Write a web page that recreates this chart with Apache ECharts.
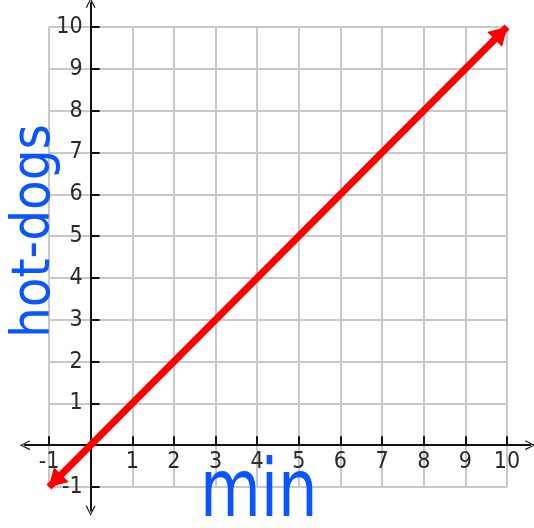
<!DOCTYPE html>
<html>
<head>
<meta charset="utf-8">
<script src="https://cdn.jsdelivr.net/npm/echarts@6/dist/echarts.min.js"></script>
<style>
  html, body { margin: 0; padding: 0; background: #fff; }
  #graph { width: 534px; height: 528px; }
</style>
</head>
<body>
<div id="graph"></div>
<script>
var myChart = echarts.init(document.getElementById('graph'));

// data
var xMin = -1, xMax = 10;
var yMin = -1, yMax = 10;
var lineX = [-1, 10];
var lineY = [-1, 10];
// axis arrow extents (data units, a bit past the grid)
var xAxisEnds = [-1.58, 10.56];
var yAxisEnds = [-1.57, 10.58];
var xTitle = 'min';
var yTitle = 'hot-dogs';

var W = 534, H = 528;
var g = { left: 49, right: 27, top: 27, bottom: 41 };
var ux = (W - g.left - g.right) / (xMax - xMin);
var uy = (H - g.top - g.bottom) / (yMax - yMin);
// outer grid only carries the long axis lines with arrow heads
var g2 = {
    left: g.left - (xMin - xAxisEnds[0]) * ux,
    right: g.right - (xAxisEnds[1] - xMax) * ux,
    top: g.top - (yAxisEnds[1] - yMax) * uy,
    bottom: g.bottom - (yMin - yAxisEnds[0]) * uy
};

var chevron = 'path://M0,10 L5,0 L10,10 L8.6,10 L5,2.2 L1.4,10 Z';
var head = 'path://M0,10 L5,0 L10,10 Z';

function hideZero(v) { return v === 0 ? '' : v; }

var labelFont = { formatter: hideZero, color: '#2a2a2a', fontSize: 23, fontFamily: '"Liberation Sans Narrow", "DejaVu Sans Condensed", sans-serif' };
var xLabel = Object.assign({ margin: 5 }, labelFont);
var yLabel = Object.assign({ margin: 8 }, labelFont);
var grey = { show: true, lineStyle: { color: '#c8c8c8', width: 2 } };
var tick = { inside: true, length: 9, lineStyle: { color: '#111', width: 2 } };
var innerLine = { onZero: false, lineStyle: { color: '#111', width: 2 } };
var outerLine = { onZero: false, symbol: [chevron, chevron], symbolSize: [10, 14], lineStyle: { color: '#111', width: 2 } };

var option = {
    animation: false,
    grid: [
        { left: g.left, right: g.right, top: g.top, bottom: g.bottom },
        { left: g2.left, right: g2.right, top: g2.top, bottom: g2.bottom }
    ],
    xAxis: [
        {
            type: 'value', gridIndex: 0, min: xMin, max: xMax, interval: 1,
            position: 'bottom', offset: -(0 - yMin) * uy,
            axisLine: innerLine, axisTick: tick, axisLabel: xLabel, splitLine: grey
        },
        {
            type: 'value', gridIndex: 1, min: xAxisEnds[0], max: xAxisEnds[1],
            position: 'bottom', offset: -(0 - yAxisEnds[0]) * uy,
            axisLine: outerLine, axisTick: { show: false }, axisLabel: { show: false }, splitLine: { show: false }
        }
    ],
    yAxis: [
        {
            type: 'value', gridIndex: 0, min: yMin, max: yMax, interval: 1,
            position: 'left', offset: -(0 - xMin) * ux,
            axisLine: innerLine, axisTick: tick, axisLabel: yLabel, splitLine: grey
        },
        {
            type: 'value', gridIndex: 1, min: yAxisEnds[0], max: yAxisEnds[1],
            position: 'left', offset: -(0 - xAxisEnds[0]) * ux,
            axisLine: outerLine, axisTick: { show: false }, axisLabel: { show: false }, splitLine: { show: false }
        }
    ],
    series: [
        {
            type: 'line', clip: false, silent: true, z: 5,
            lineStyle: { color: '#ff0000', width: 7 },
            symbol: head, symbolSize: [21, 18],
            itemStyle: { color: '#ff0000' },
            data: [
                { value: [lineX[0], lineY[0]], symbolRotate: 135, symbolOffset: [6, -6] },
                { value: [lineX[1], lineY[1]], symbolRotate: -45, symbolOffset: [-6, 6] }
            ]
        }
    ],
    graphic: [
        {
            type: 'text', left: 200, top: 455, z: 10,
            style: { text: xTitle, fill: '#0a55ff', font: '80px "DejaVu Sans"' },
            scaleX: 0.78
        },
        {
            type: 'text', x: 8, y: 338, rotation: Math.PI / 2, z: 10,
            style: { text: yTitle, fill: '#0a55ff', font: '54px "DejaVu Sans"' },
            scaleX: 0.9
        }
    ]
};
myChart.setOption(option);
</script>
</body>
</html>
